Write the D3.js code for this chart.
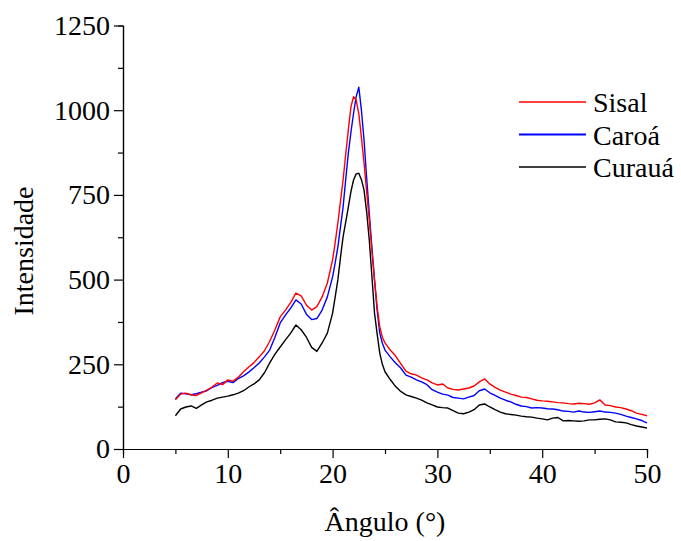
<!DOCTYPE html>
<meta charset="utf-8">
<style>
body { margin: 0; background: #fff; }
svg text { font-family: "Liberation Serif", "Times New Roman", serif; fill: #000; }
.axis path, .axis line { stroke: #000; stroke-width: 1.2px; }
.curve { fill: none; stroke-width: 1.4px; stroke-linejoin: round; }
</style>
<svg id="chart" width="681" height="541"></svg>
<script src="https://cdn.jsdelivr.net/npm/d3@7"></script>
<script>

// angulo 2theta (graus)
var angles = [5,5.5,6,6.5,7,7.5,8,8.5,9,9.5,
  10,10.5,11,11.5,12,12.5,13,13.5,14,14.5,
  15,15.5,16,16.5,17,17.5,18,18.5,19,19.5,
  20,20.25,20.5,20.75,21,21.25,21.5,21.75,22,22.25,
  22.5,22.75,23,23.25,23.5,23.75,24,24.25,24.5,24.75,
  25,25.5,26,26.5,27,27.5,28,28.5,29,29.5,
  30,30.5,31,31.5,32,32.5,33,33.5,34,34.5,
  35,35.5,36,36.5,37,37.5,38,38.5,39,39.5,
  40,40.5,41,41.5,42,42.5,43,43.5,44,44.5,
  45,45.5,46,46.5,47,47.5,48,48.5,49,49.5,
  50];

var sisal = [145,162,165,160,158,166,174,183,195,190,
  204,200,212,228,242,255,272,290,318,352,
  390,410,432,460,452,425,410,420,449,490,
  558,610,667,730,794,870,941,1010,1040,1030,
  990,920,844,760,676,585,499,420,360,330,
  313,292,275,252,230,222,218,210,204,195,
  189,192,180,176,174,177,180,186,198,207,
  192,182,174,168,162,158,153,152,148,144,
  142,141,139,137,136,134,133,135,134,132,
  136,145,130,128,124,122,118,113,106,102,
  98];

var caroa = [148,165,163,160,163,168,172,182,188,196,
  200,196,208,216,227,240,254,272,292,330,
  372,395,416,440,428,398,382,385,410,449,
  508,550,596,655,714,795,873,935,991,1040,
  1068,1000,912,800,696,595,499,410,342,312,
  292,272,254,239,218,212,204,198,190,175,
  168,162,159,152,150,148,153,158,172,177,
  166,158,150,144,139,132,127,125,121,122,
  121,119,118,116,112,111,109,112,109,108,
  110,112,109,108,106,102,97,93,89,84,
  77];

var curaua = [98,118,124,127,120,130,139,144,150,153,
  156,160,165,172,183,192,204,225,254,280,
  301,322,342,366,352,330,300,288,313,342,
  401,450,499,565,626,670,714,760,794,812,
  814,795,764,700,617,510,401,340,283,250,
  228,205,185,170,160,155,150,144,136,130,
  124,122,121,113,106,104,109,116,130,133,
  124,116,109,104,102,100,97,95,94,91,
  89,86,91,93,83,84,83,82,83,86,
  86,88,89,86,80,79,77,72,68,65,
  62];

var seriesNames = ["Sisal", "Caroá", "Curauá"];
var seriesColors = ["#ff0000", "#0000ff", "#000000"];
var xTicks = [0, 10, 20, 30, 40, 50];
var xMinor = [5, 15, 25, 35, 45];
var yTicks = [0, 250, 500, 750, 1000, 1250];
var yMinor = [125, 375, 625, 875, 1125];

var svg = d3.select("#chart");
var margin = {top: 25.5, right: 34, bottom: 92, left: 123};
var width = +svg.attr("width") - margin.left - margin.right,
    height = +svg.attr("height") - margin.top - margin.bottom;

var g = svg.append("g").attr("transform", "translate(" + margin.left + "," + margin.top + ")");

var x = d3.scaleLinear().domain([0, 50]).range([0, width]);
var y = d3.scaleLinear().domain([0, 1250]).range([height, 0]);

// curvas
var allSeries = [sisal, caroa, curaua];
var line = d3.line()
    .x(function(d, i) { return x(angles[i]); })
    .y(function(d) { return y(d); });

// draw black first so red/blue sit on top like the original
[2, 1, 0].forEach(function(k) {
  g.append("path")
    .attr("class", "curve")
    .attr("stroke", seriesColors[k])
    .attr("d", line(allSeries[k]));
});

// eixos
var fmt = d3.format("d");
g.append("g")
  .attr("class", "axis")
  .attr("transform", "translate(0," + height + ")")
  .call(d3.axisBottom(x).tickValues(xMinor).tickSize(5).tickFormat(""));
var xAxis = g.append("g")
  .attr("class", "axis")
  .attr("transform", "translate(0," + height + ")")
  .call(d3.axisBottom(x).tickValues(xTicks).tickFormat(fmt).tickSize(9).tickSizeOuter(0).tickPadding(5));
xAxis.selectAll("text").attr("font-size", 28);

g.append("g")
  .attr("class", "axis")
  .call(d3.axisLeft(y).tickValues(yMinor).tickSize(5).tickFormat(""));
var yAxis = g.append("g")
  .attr("class", "axis")
  .call(d3.axisLeft(y).tickValues(yTicks).tickFormat(fmt).tickSize(9).tickSizeOuter(0).tickPadding(4));
yAxis.selectAll("text").attr("font-size", 28);

// titulos
svg.append("text")
  .attr("x", margin.left + width / 2)
  .attr("y", 531)
  .attr("text-anchor", "middle")
  .attr("font-size", 28)
  .text("Ângulo (°)");

svg.append("text")
  .attr("transform", "translate(33,251) rotate(-90)")
  .attr("text-anchor", "middle")
  .attr("font-size", 28)
  .text("Intensidade");

// legenda
var legend = svg.append("g").attr("transform", "translate(519,102)");
seriesNames.forEach(function(name, i) {
  var row = legend.append("g").attr("transform", "translate(0," + (i * 32.5) + ")");
  row.append("line")
    .attr("x1", 0).attr("x2", 67)
    .attr("stroke", seriesColors[i])
    .attr("stroke-width", i == 1 ? 1.8 : 1.3);
  row.append("text")
    .attr("x", 74)
    .attr("y", 10)
    .attr("font-size", 28)
    .text(name);
});

</script>
